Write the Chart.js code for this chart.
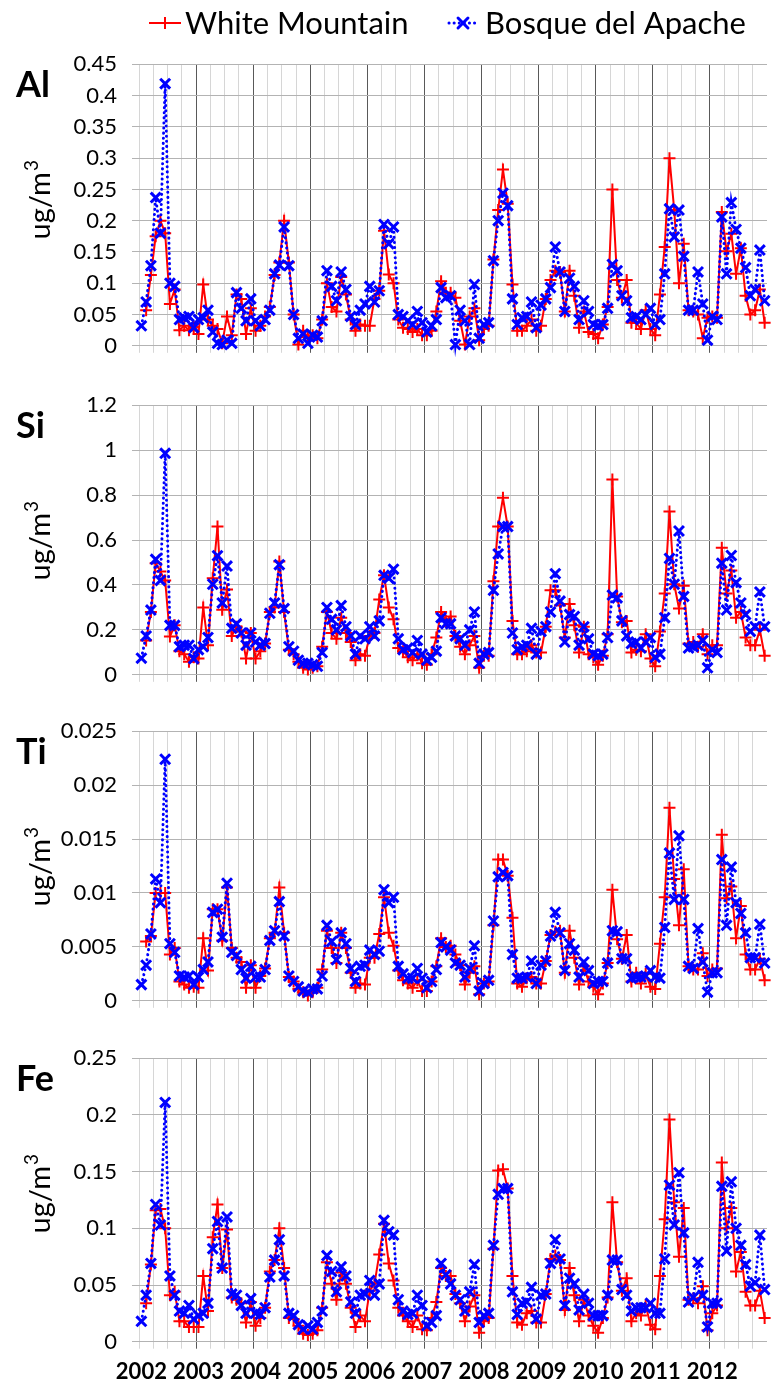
<!DOCTYPE html>
<html>
<head>
<meta charset="utf-8">
<script src="https://cdn.jsdelivr.net/npm/chart.js@4.4.1/dist/chart.umd.min.js"></script>
<style>
  html, body { margin: 0; padding: 0; background: #fff; overflow: hidden; }
  #wrap { position: relative; width: 777px; height: 1383px; }
  .panel { position: absolute; left: 0; width: 777px; }
</style>
</head>
<body>
<div id="wrap">
  <div class="panel" id="p0"><canvas id="c0"></canvas></div>
  <div class="panel" id="p1"><canvas id="c1"></canvas></div>
  <div class="panel" id="p2"><canvas id="c2"></canvas></div>
  <div class="panel" id="p3"><canvas id="c3"></canvas></div>
</div>
<script>
// ---- data (monthly, Jan 2002 - Dec 2012) ----
const years = ["2002", "2003", "2004", "2005", "2006", "2007", "2008", "2009", "2010", "2011", "2012"];
const monthNames = ["Jan", "Feb", "Mar", "Apr", "May", "Jun", "Jul", "Aug", "Sep", "Oct", "Nov", "Dec"];
const elements = ["Al", "Si", "Ti", "Fe"];
const seriesNames = ["White Mountain", "Bosque del Apache"];
const yMax = [0.45, 1.2, 0.025, 0.25];
const yStep = [0.05, 0.2, 0.005, 0.05];

const wmAl = [null, 0.057, 0.113, 0.175, 0.2, 0.18, 0.067, 0.09, 0.025, 0.032, 0.025, 0.03,
  0.019, 0.098, 0.042, 0.032, 0.027, 0.004, 0.047, 0.017, 0.082, 0.075, 0.019, 0.06,
  0.024, 0.032, 0.047, 0.062, 0.113, 0.133, 0.2, 0.133, 0.05, 0.002, 0.024, 0.014,
  0.017, 0.012, 0.042, 0.1, 0.062, 0.055, 0.11, 0.082, 0.042, 0.024, 0.034, 0.032,
  0.032, 0.075, 0.088, 0.184, 0.114, 0.1, 0.042, 0.029, 0.027, 0.022, 0.027, 0.017,
  0.017, 0.024, 0.055, 0.103, 0.085, 0.085, 0.077, 0.04, 0.002, 0.047, 0.06, 0.009,
  0.027, 0.032, 0.138, 0.217, 0.282, 0.227, 0.098, 0.024, 0.024, 0.032, 0.042, 0.024,
  0.032, 0.075, 0.105, 0.12, 0.118, 0.055, 0.12, 0.08, 0.029, 0.055, 0.022, 0.019,
  0.012, 0.034, 0.062, 0.25, 0.105, 0.077, 0.105, 0.037, 0.037, 0.027, 0.057, 0.027,
  0.017, 0.082, 0.158, 0.3, 0.217, 0.1, 0.163, 0.057, 0.055, 0.05, 0.012, 0.045,
  0.047, 0.045, 0.214, 0.151, 0.179, 0.115, 0.156, 0.08, 0.05, 0.057, 0.09, 0.037];
const bdaAl = [0.032, 0.07, 0.128, 0.237, 0.18, 0.419, 0.1, 0.095, 0.042, 0.045, 0.047, 0.029,
  0.042, 0.045, 0.057, 0.022, 0.004, 0.002, 0.009, 0.004, 0.085, 0.06, 0.04, 0.075,
  0.04, 0.032, 0.042, 0.057, 0.115, 0.129, 0.19, 0.128, 0.05, 0.012, 0.019, 0.004,
  0.017, 0.014, 0.04, 0.12, 0.095, 0.072, 0.118, 0.09, 0.047, 0.034, 0.057, 0.067,
  0.095, 0.07, 0.088, 0.194, 0.163, 0.19, 0.05, 0.047, 0.04, 0.034, 0.055, 0.037,
  0.022, 0.032, 0.042, 0.093, 0.077, 0.08, 0.002, 0.057, 0.04, 0.002, 0.098, 0.012,
  0.034, 0.037, 0.136, 0.2, 0.244, 0.224, 0.075, 0.034, 0.045, 0.047, 0.07, 0.029,
  0.065, 0.075, 0.093, 0.158, 0.118, 0.055, 0.108, 0.095, 0.042, 0.072, 0.055, 0.034,
  0.032, 0.034, 0.06, 0.13, 0.12, 0.08, 0.072, 0.045, 0.047, 0.042, 0.05, 0.06,
  0.034, 0.042, 0.115, 0.219, 0.174, 0.217, 0.143, 0.057, 0.057, 0.118, 0.067, 0.009,
  0.047, 0.042, 0.206, 0.115, 0.229, 0.186, 0.156, 0.125, 0.08, 0.09, 0.153, 0.072];

const wmSi = [null, 0.153, 0.28, 0.497, 0.46, 0.42, 0.17, 0.22, 0.105, 0.092, 0.058, 0.078,
  0.072, 0.3, 0.132, 0.43, 0.66, 0.29, 0.38, 0.173, 0.214, 0.193, 0.072, 0.186,
  0.072, 0.105, 0.139, 0.28, 0.3, 0.504, 0.28, 0.112, 0.092, 0.058, 0.031, 0.024,
  0.031, 0.038, 0.125, 0.28, 0.186, 0.16, 0.254, 0.186, 0.146, 0.065, 0.092, 0.085,
  0.173, 0.186, 0.335, 0.443, 0.3, 0.247, 0.119, 0.105, 0.078, 0.065, 0.092, 0.051,
  0.045, 0.092, 0.166, 0.28, 0.24, 0.26, 0.173, 0.125, 0.092, 0.132, 0.173, 0.031,
  0.085, 0.085, 0.416, 0.66, 0.788, 0.66, 0.24, 0.092, 0.092, 0.105, 0.132, 0.099,
  0.099, 0.214, 0.376, 0.376, 0.308, 0.166, 0.315, 0.22, 0.099, 0.214, 0.092, 0.078,
  0.045, 0.085, 0.18, 0.869, 0.349, 0.234, 0.24, 0.099, 0.112, 0.105, 0.18, 0.072,
  0.038, 0.193, 0.362, 0.727, 0.403, 0.295, 0.396, 0.139, 0.146, 0.125, 0.18, 0.092,
  0.132, 0.132, 0.565, 0.362, 0.464, 0.254, 0.28, 0.166, 0.132, 0.132, 0.2, 0.085];
const bdaSi = [0.074, 0.173, 0.288, 0.514, 0.42, 0.986, 0.22, 0.22, 0.125, 0.132, 0.132, 0.072,
  0.112, 0.125, 0.166, 0.403, 0.53, 0.32, 0.484, 0.207, 0.227, 0.186, 0.132, 0.186,
  0.146, 0.132, 0.139, 0.274, 0.32, 0.49, 0.295, 0.125, 0.105, 0.065, 0.051, 0.051,
  0.045, 0.038, 0.099, 0.3, 0.247, 0.2, 0.308, 0.214, 0.173, 0.092, 0.173, 0.16,
  0.214, 0.173, 0.24, 0.443, 0.43, 0.47, 0.16, 0.112, 0.119, 0.099, 0.153, 0.092,
  0.065, 0.078, 0.105, 0.254, 0.227, 0.227, 0.173, 0.16, 0.132, 0.2, 0.28, 0.051,
  0.092, 0.099, 0.376, 0.538, 0.66, 0.66, 0.186, 0.112, 0.125, 0.132, 0.207, 0.092,
  0.193, 0.214, 0.28, 0.45, 0.328, 0.146, 0.268, 0.26, 0.132, 0.214, 0.16, 0.092,
  0.085, 0.092, 0.166, 0.355, 0.342, 0.24, 0.173, 0.139, 0.146, 0.119, 0.146, 0.166,
  0.078, 0.092, 0.254, 0.518, 0.403, 0.64, 0.349, 0.119, 0.125, 0.132, 0.153, 0.031,
  0.112, 0.099, 0.497, 0.288, 0.531, 0.41, 0.32, 0.268, 0.193, 0.214, 0.369, 0.214];

const wmTi = [null, 0.0055, 0.006, 0.01, 0.01, 0.01, 0.0043, 0.0049, 0.0018, 0.0015, 0.0012, 0.0013,
  0.0012, 0.0058, 0.0028, 0.0085, 0.0085, 0.0056, 0.0105, 0.0049, 0.004, 0.0036, 0.0012, 0.0033,
  0.0012, 0.0023, 0.003, 0.0058, 0.0063, 0.0105, 0.0063, 0.0022, 0.0018, 0.0011, 0.0008, 0.0005,
  0.0008, 0.0012, 0.0029, 0.0065, 0.0049, 0.0035, 0.0063, 0.0049, 0.0026, 0.0012, 0.0016, 0.0015,
  0.004, 0.004, 0.0062, 0.0096, 0.0063, 0.0051, 0.0028, 0.0019, 0.0016, 0.0012, 0.0019, 0.0009,
  0.0009, 0.0018, 0.0032, 0.0058, 0.005, 0.0051, 0.0043, 0.0033, 0.0015, 0.0026, 0.0032, 0.0006,
  0.0016, 0.0018, 0.007, 0.0131, 0.0131, 0.0116, 0.0077, 0.0016, 0.0013, 0.0021, 0.0022, 0.0016,
  0.0016, 0.0037, 0.0061, 0.0064, 0.0065, 0.0026, 0.0065, 0.004, 0.0015, 0.0032, 0.0018, 0.0013,
  0.0006, 0.0016, 0.0035, 0.0103, 0.0057, 0.0039, 0.0061, 0.0018, 0.0026, 0.0016, 0.0025, 0.0013,
  0.0011, 0.0053, 0.0096, 0.0179, 0.0113, 0.007, 0.0122, 0.0032, 0.0029, 0.0029, 0.0044, 0.0023,
  0.0029, 0.003, 0.0154, 0.0095, 0.0106, 0.0058, 0.0088, 0.0043, 0.0029, 0.0029, 0.0039, 0.0019];
const bdaTi = [0.0015, 0.0033, 0.0062, 0.0113, 0.0091, 0.0224, 0.0053, 0.0045, 0.0023, 0.0022, 0.0023, 0.0015,
  0.0022, 0.0029, 0.0036, 0.0082, 0.0085, 0.0059, 0.0109, 0.0045, 0.0042, 0.0029, 0.0021, 0.0032,
  0.0022, 0.0022, 0.0029, 0.0056, 0.0065, 0.0092, 0.006, 0.0023, 0.0018, 0.0013, 0.0009, 0.0008,
  0.0011, 0.0011, 0.0023, 0.007, 0.0055, 0.0038, 0.0063, 0.0053, 0.003, 0.0018, 0.0032, 0.0033,
  0.0047, 0.0043, 0.0046, 0.0103, 0.0091, 0.0096, 0.0032, 0.0025, 0.0021, 0.0021, 0.003, 0.0021,
  0.0012, 0.0018, 0.0029, 0.0054, 0.005, 0.0047, 0.0035, 0.0033, 0.0022, 0.003, 0.0051, 0.0009,
  0.0016, 0.0019, 0.0074, 0.0115, 0.0119, 0.0116, 0.0043, 0.0021, 0.0021, 0.0022, 0.0037, 0.0016,
  0.0033, 0.0037, 0.006, 0.0082, 0.0063, 0.0028, 0.0053, 0.0047, 0.0022, 0.0036, 0.0028, 0.0016,
  0.0018, 0.0018, 0.0035, 0.0065, 0.0064, 0.0039, 0.0039, 0.0021, 0.0022, 0.0022, 0.0023, 0.0028,
  0.0022, 0.0021, 0.0068, 0.0137, 0.0094, 0.0153, 0.0094, 0.0032, 0.003, 0.0067, 0.0036, 0.0008,
  0.0026, 0.0026, 0.0131, 0.007, 0.0124, 0.0091, 0.0081, 0.0063, 0.004, 0.004, 0.0071, 0.0035];

const wmFe = [null, 0.034, 0.068, 0.116, 0.117, 0.1, 0.041, 0.044, 0.018, 0.018, 0.013, 0.013,
  0.013, 0.058, 0.027, 0.092, 0.121, 0.065, 0.099, 0.039, 0.037, 0.034, 0.017, 0.035,
  0.014, 0.021, 0.03, 0.062, 0.072, 0.1, 0.065, 0.021, 0.02, 0.014, 0.007, 0.006,
  0.007, 0.01, 0.03, 0.07, 0.051, 0.037, 0.061, 0.051, 0.03, 0.013, 0.023, 0.018,
  0.045, 0.051, 0.077, 0.104, 0.069, 0.054, 0.03, 0.023, 0.018, 0.013, 0.023, 0.011,
  0.01, 0.021, 0.035, 0.065, 0.058, 0.058, 0.042, 0.034, 0.018, 0.031, 0.041, 0.008,
  0.018, 0.021, 0.082, 0.151, 0.152, 0.135, 0.058, 0.017, 0.015, 0.025, 0.027, 0.017,
  0.017, 0.042, 0.073, 0.076, 0.072, 0.028, 0.065, 0.041, 0.018, 0.037, 0.023, 0.014,
  0.008, 0.021, 0.039, 0.123, 0.07, 0.045, 0.056, 0.018, 0.025, 0.023, 0.032, 0.015,
  0.011, 0.058, 0.108, 0.196, 0.123, 0.075, 0.118, 0.037, 0.038, 0.034, 0.049, 0.01,
  0.025, 0.032, 0.158, 0.1, 0.118, 0.062, 0.079, 0.044, 0.032, 0.032, 0.045, 0.021];
const bdaFe = [0.018, 0.041, 0.069, 0.121, 0.103, 0.211, 0.058, 0.041, 0.027, 0.025, 0.032, 0.02,
  0.023, 0.025, 0.034, 0.082, 0.106, 0.065, 0.11, 0.042, 0.041, 0.032, 0.025, 0.038,
  0.025, 0.024, 0.03, 0.057, 0.072, 0.09, 0.058, 0.025, 0.023, 0.015, 0.011, 0.014,
  0.011, 0.017, 0.027, 0.076, 0.062, 0.044, 0.066, 0.058, 0.035, 0.025, 0.041, 0.042,
  0.054, 0.041, 0.051, 0.107, 0.097, 0.094, 0.037, 0.027, 0.024, 0.025, 0.041, 0.032,
  0.014, 0.017, 0.023, 0.069, 0.059, 0.051, 0.041, 0.037, 0.027, 0.044, 0.068, 0.017,
  0.023, 0.025, 0.085, 0.13, 0.135, 0.135, 0.044, 0.024, 0.034, 0.035, 0.048, 0.02,
  0.041, 0.042, 0.069, 0.09, 0.073, 0.032, 0.056, 0.051, 0.028, 0.042, 0.034, 0.023,
  0.023, 0.023, 0.041, 0.072, 0.072, 0.046, 0.041, 0.027, 0.03, 0.03, 0.03, 0.034,
  0.025, 0.025, 0.073, 0.138, 0.103, 0.149, 0.096, 0.035, 0.039, 0.07, 0.041, 0.013,
  0.034, 0.034, 0.137, 0.08, 0.141, 0.1, 0.085, 0.068, 0.049, 0.052, 0.094, 0.046];

const wmData = [wmAl, wmSi, wmTi, wmFe];
const bdaData = [bdaAl, bdaSi, bdaTi, bdaFe];

// month categories built from the years list
const months = [];
years.forEach(function (y) {
  monthNames.forEach(function (m) { months.push(m + " " + y); });
});

// ---- layout (page pixels) ----
const boxTop = [0, 377, 703, 1030];
const boxHeight = [374, 326, 326, 353];
const plotTop = [64.3, 393.3, 719.3, 1046];
const plotBottom = [361, 689.3, 1016, 1341.7];
const FONT = "Lato, 'Open Sans', sans-serif";
const RED = "#ff0000";
const BLUE = "#0000ff";

Chart.defaults.font.family = FONT;
Chart.defaults.color = "#000";

// element label, y title and (top panel) legend
const panelText = {
  id: "panelText",
  afterDraw(chart, args, opts) {
    const c = chart.ctx;
    const top = chart.chartArea.top;
    c.save();
    c.fillStyle = "#000";
    c.textAlign = "left";
    c.textBaseline = "alphabetic";
    c.font = "bold 36px " + FONT;
    c.fillText(opts.label, 16, top + 33);

    // ug/m3, rotated, with raised 3
    c.save();
    c.translate(50, top + 136);
    c.rotate(-Math.PI / 2);
    c.font = "29px " + FONT;
    const w1 = c.measureText("ug/m").width;
    c.font = "19px " + FONT;
    const w2 = c.measureText("3").width;
    const x0 = -(w1 + w2) / 2;
    c.font = "29px " + FONT;
    c.fillText("ug/m", x0, 0);
    c.font = "19px " + FONT;
    c.fillText("3", x0 + w1 + 1, -12);
    c.restore();

    if (opts.legend) {
      const ly = 23;
      c.font = "31px " + FONT;
      c.textBaseline = "middle";
      // White Mountain
      c.strokeStyle = RED;
      c.lineWidth = 2;
      c.beginPath();
      c.moveTo(149, ly);
      c.lineTo(181, ly);
      c.stroke();
      Chart.helpers.drawPoint(c, { pointStyle: "cross", radius: 6, borderWidth: 2, rotation: 0 }, 165, ly);
      c.fillText(seriesNames[0], 185, ly + 1);
      // Bosque del Apache
      c.strokeStyle = BLUE;
      c.fillStyle = BLUE;
      c.lineWidth = 3;
      c.lineCap = "round";
      c.setLineDash([0.1, 5]);
      c.beginPath();
      c.moveTo(449, ly);
      c.lineTo(477, ly);
      c.stroke();
      c.setLineDash([]);
      Chart.helpers.drawPoint(c, { pointStyle: "crossRot", radius: 7, borderWidth: 3, rotation: 0 }, 463, ly);
      c.fillStyle = "#000";
      c.fillText(seriesNames[1], 485, ly + 1);
    }
    c.restore();
  }
};

function gridColor(ctx) {
  const i = ctx.index;
  if (i === undefined) return "rgba(0,0,0,0)";
  if (i % 12 === 0 && i > 0) return "#595959";
  if (i % 3 === 0) return "#d6d6d6";
  return "rgba(0,0,0,0)";
}

function makePanel(k) {
  const box = document.getElementById("p" + k);
  box.style.top = boxTop[k] + "px";
  box.style.height = boxHeight[k] + "px";
  const last = k === elements.length - 1;
  const xHeight = boxTop[k] + boxHeight[k] - plotBottom[k];

  return new Chart(document.getElementById("c" + k), {
    type: "line",
    data: {
      labels: months,
      datasets: [
        {
          label: seriesNames[0],
          data: wmData[k],
          borderColor: RED,
          backgroundColor: RED,
          borderWidth: 2,
          pointStyle: "cross",
          pointRadius: 6,
          pointBorderWidth: 2,
          pointBorderColor: RED,
          tension: 0,
          clip: false,
          order: 2,
        },
        {
          label: seriesNames[1],
          data: bdaData[k],
          borderColor: BLUE,
          backgroundColor: BLUE,
          borderWidth: 3,
          borderDash: [0.1, 5],
          borderCapStyle: "round",
          pointStyle: "crossRot",
          pointRadius: 7,
          pointBorderWidth: 3,
          pointBorderColor: BLUE,
          tension: 0,
          clip: false,
          order: 1,
        },
      ],
    },
    options: {
      responsive: true,
      maintainAspectRatio: false,
      animation: false,
      events: [],
      layout: { padding: { top: plotTop[k] - boxTop[k], left: 0, right: 0, bottom: 0 } },
      scales: {
        x: {
          type: "category",
          offset: true,
          grid: { offset: true, color: gridColor, lineWidth: 1, tickLength: 7 },
          border: { display: false },
          ticks: {
            display: last,
            autoSkip: false,
            maxRotation: 0,
            minRotation: 0,
            padding: 10,
            color: "#000",
            font: { size: 22, weight: "bold" },
            callback: function (value, index) {
              return index % 12 === 0 ? years[index / 12] : "";
            },
          },
          afterFit: function (scale) { scale.height = xHeight; },
        },
        y: {
          min: 0,
          max: yMax[k],
          grid: { color: "#b3b3b3", lineWidth: 1, tickLength: 7 },
          border: { display: false },
          ticks: {
            stepSize: yStep[k],
            padding: 15,
            color: "#000",
            font: { size: 22 },
            callback: function (value) { return String(parseFloat(value.toFixed(4))); },
          },
          afterFit: function (scale) { scale.width = 139; },
        },
      },
      plugins: {
        legend: { display: false },
        tooltip: { enabled: false },
        panelText: { label: elements[k], legend: k === 0 },
      },
    },
    plugins: [panelText],
  });
}

var charts = elements.map(function (el, k) { return makePanel(k); });
</script>
</body>
</html>
